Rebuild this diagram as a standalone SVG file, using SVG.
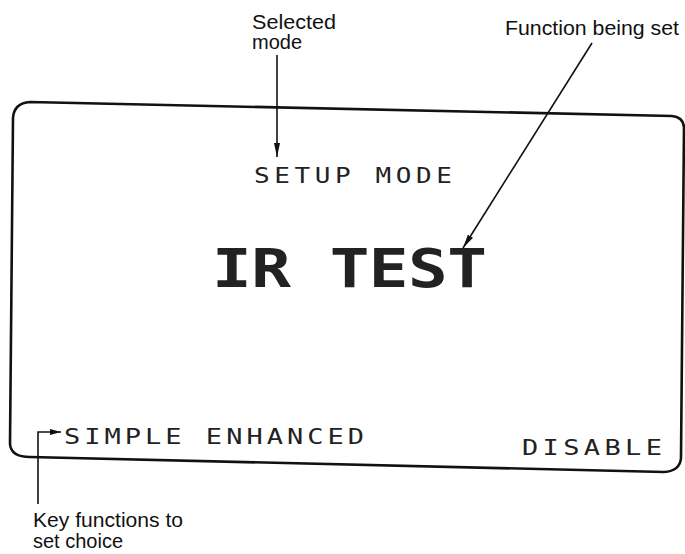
<svg xmlns="http://www.w3.org/2000/svg" width="685" height="554" viewBox="0 0 685 554">
<style>
.lbl{font-family:"Liberation Sans",Arial,sans-serif;font-size:20px;fill:#111}
.lcd{font-family:"DejaVu Sans Mono","Liberation Mono",monospace;fill:#222}
.lead{stroke:#111;stroke-width:1.6;fill:none}
.frame{stroke:#111;stroke-width:2.6;fill:none}
</style>
<defs>
<marker id="ah" viewBox="0 0 14 6" refX="14" refY="3" markerWidth="14" markerHeight="6" markerUnits="userSpaceOnUse" orient="auto">
<path d="M0,0 L14,3 L0,6 Z" fill="#111"/>
</marker>
<marker id="ahs" viewBox="0 0 11 6" refX="11" refY="3" markerWidth="11" markerHeight="6" markerUnits="userSpaceOnUse" orient="auto">
<path d="M0,0 L11,3 L0,6 Z" fill="#111"/>
</marker>
</defs>
<rect width="685" height="554" fill="#fff"/>
<g id="display">
<path class="frame" d="M30,102 L672,116 Q683,117 684,127 L681,458 Q680,471 664,472 L30,457 Q11,457 10,444 L13,118 Q14,103 30,102 Z"/>
<text class="lcd" transform="translate(254,183) scale(1,0.8)" font-size="26" textLength="198" lengthAdjust="spacing">SETUP MODE</text>
<text class="lcd" transform="translate(212,287) scale(1,0.82)" font-size="66" font-weight="bold" textLength="275" lengthAdjust="spacing">IR TEST</text>
<text class="lcd" transform="translate(64,444) scale(1,0.8)" font-size="27" textLength="300" lengthAdjust="spacing">SIMPLE ENHANCED</text>
<text class="lcd" transform="translate(522,455) scale(1,0.8)" font-size="27" textLength="140" lengthAdjust="spacing">DISABLE</text>
</g>
<g id="label-selected-mode">
<text class="lbl" x="252" y="29" textLength="84" lengthAdjust="spacingAndGlyphs">Selected</text>
<text class="lbl" x="252" y="49">mode</text>
</g>
<g id="label-function">
<text class="lbl" x="505" y="35" textLength="174" lengthAdjust="spacingAndGlyphs">Function being set</text>
</g>
<g id="label-key">
<text class="lbl" x="33" y="527" textLength="150" lengthAdjust="spacingAndGlyphs">Key functions to</text>
<text class="lbl" x="33" y="548">set choice</text>
</g>
<g id="connectors">
<line class="lead" x1="277" y1="55" x2="277" y2="157" marker-end="url(#ah)"/>
<line class="lead" x1="592" y1="43" x2="463" y2="248" marker-end="url(#ah)"/>
<polyline class="lead" points="38,504 38,432 61,432" marker-end="url(#ahs)"/>
</g>
</svg>
